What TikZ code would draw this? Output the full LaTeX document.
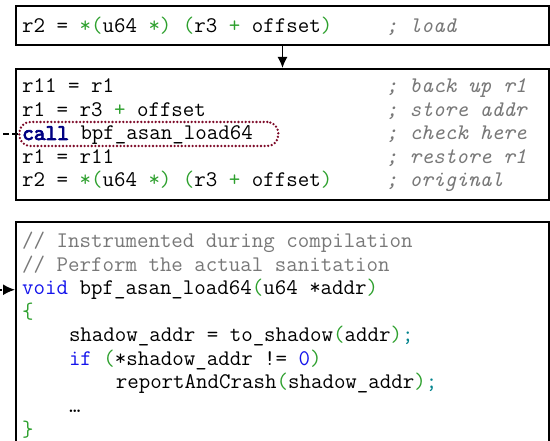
\documentclass[tikz,border=0pt]{standalone}
\usepackage{xcolor}
\usepackage{fontspec}
\usetikzlibrary{arrows.meta}

\newfontfamily\monobold{lmmono10-regular.otf}[FakeBold=3.5]

\definecolor{codegreen}{RGB}{46,160,46}
\definecolor{codeblue}{RGB}{20,20,235}
\definecolor{codenavy}{RGB}{0,0,130}
\definecolor{codeteal}{RGB}{0,130,140}
\definecolor{codegray}{RGB}{120,120,120}
\definecolor{checkred}{RGB}{125,10,40}

\newcommand{\codefont}{\ttfamily\fontsize{22.3}{23.5}\selectfont}
\newcommand{\hlgreen}[1]{\textcolor{codegreen}{#1}}
\newcommand{\hlblue}[1]{\textcolor{codeblue}{#1}}
\newcommand{\hlnavy}[1]{\textcolor{codenavy}{\monobold #1}}
\newcommand{\hlteal}[1]{\textcolor{codeteal}{#1}}

\tikzset{
  codebox/.style={draw, line width=2pt, anchor=north west, inner sep=0pt},
  codeline/.style={anchor=base west, inner sep=0pt, font=\codefont},
  cmt/.style={codeline, text=codegray, font=\codefont\itshape},
  plaincmt/.style={codeline, text=codegray},
  checkoval/.style={draw=checkred, line width=2.6pt, dash pattern=on 0pt off 3.6pt,
    line cap=round, rounded corners=11pt, anchor=west, inner sep=0pt},
  flow/.style={line width=1.6pt, -{Latex[length=11pt,width=10pt]}},
  hook/.style={line width=1.6pt, dash pattern=on 6pt off 3pt, -{Latex[length=12pt,width=11pt]}}
}

\begin{document}
\begin{tikzpicture}[x=1pt,y=-1pt]
  \useasboundingbox (0,0) rectangle (550,441);
  \clip (0,0) rectangle (550,441);

  % original load instruction
  \node[codebox, minimum width=533pt, minimum height=39pt] (load) at (15,5) {};
  \node[codeline] (ld) at (22,33) {r2 = \hlgreen{*(}u64 \hlgreen{*)} \hlgreen{(}r3 \hlgreen{+} offset\hlgreen{)}};
  \node[cmt] (ldc) at (386,33) {; load};

  % rewritten sequence
  \node[codebox, minimum width=533pt, minimum height=131pt] (seq) at (15,68) {};
  \draw[flow] (load.south) -- (seq.north);
  \node[checkoval, minimum width=259pt, minimum height=24pt] (chk) at (18,134) {};
  \node[codeline] (s1) at (22,93) {r11 = r1};
  \node[codeline] (s2) at (22,116.5) {r1 = r3 \hlgreen{+} offset};
  \node[codeline] (s3) at (22,140) {\hlnavy{call} bpf\_asan\_load64};
  \node[codeline] (s4) at (22,163.5) {r1 = r11};
  \node[codeline] (s5) at (22,187) {r2 = \hlgreen{*(}u64 \hlgreen{*)} \hlgreen{(}r3 \hlgreen{+} offset\hlgreen{)}};
  \node[cmt] (s1c) at (386,93) {; back up r1};
  \node[cmt] (s2c) at (386,116.5) {; store addr};
  \node[cmt] (s3c) at (386,140) {; check here};
  \node[cmt] (s4c) at (386,163.5) {; restore r1};
  \node[cmt] (s5c) at (386,187) {; original};

  % checker function
  \node[codebox, minimum width=533pt, minimum height=250pt] (asan) at (15,221) {};
  \node[plaincmt] (f1) at (22,248) {// Instrumented during compilation};
  \node[plaincmt] (f2) at (22,271.5) {// Perform the actual sanitation};
  \node[codeline] (vd) at (22,295) {\hlblue{void} bpf\_asan\_load64\hlgreen{(}u64 *addr\hlgreen{)}};
  \node[codeline] (ob) at (22,318.5) {\hlgreen{\{}};
  \node[codeline] (sh) at (68.8,342) {shadow\_addr = to\_shadow\hlgreen{(}addr\hlgreen{)}\hlteal{;}};
  \node[codeline] (cnd) at (68.8,365.5) {\hlblue{if} \hlgreen{(}*shadow\_addr != \hlblue{0}\hlgreen{)}};
  \node[codeline] (rep) at (115.6,389) {reportAndCrash\hlgreen{(}shadow\_addr\hlgreen{)}\hlteal{;}};
  \node[codeline] (dots) at (68.8,412.5) {\textellipsis};
  \node[codeline] (cb) at (22,436) {\hlgreen{\}}};

  % call site to checker
  \coordinate (side) at (-5,0);
  \draw[hook] (chk.west) -- (chk.west -| side) |- (asan.west |- vd);
\end{tikzpicture}
\end{document}
